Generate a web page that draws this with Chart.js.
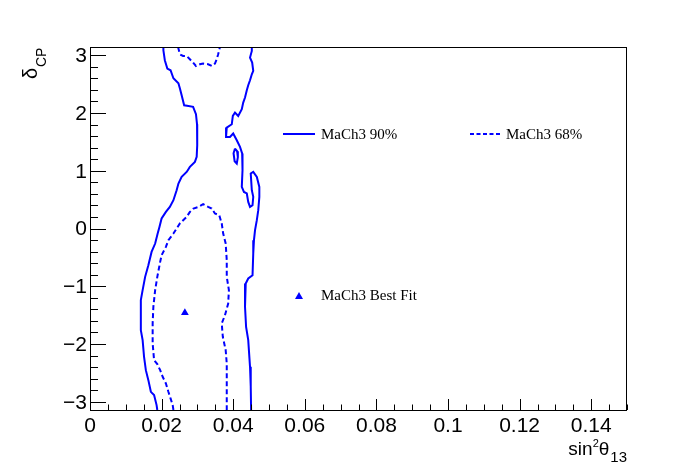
<!DOCTYPE html>
<html>
<head>
<meta charset="utf-8">
<script src="https://cdn.jsdelivr.net/npm/chart.js@4.4.0/dist/chart.umd.min.js"></script>
<style>
  html, body { margin: 0; padding: 0; background: #fff; }
</style>
</head>
<body>
<canvas id="contourChart" width="696" height="472"></canvas>
<script>
// axis ticks
const xTickValues = [0, 0.02, 0.04, 0.06, 0.08, 0.1, 0.12, 0.14];
const xTickLabels = ['0', '0.02', '0.04', '0.06', '0.08', '0.1', '0.12', '0.14'];
const yTickValues = [-3, -2, -1, 0, 1, 2, 3];
const yTickLabels = ['\u22123', '\u22122', '\u22121', '0', '1', '2', '3'];

// 90% contour pieces [sin2theta13, deltaCP]
const c90Left = [
    [0.0205, 3.1416], [0.0205, 3.085], [0.0209, 2.912], [0.0216, 2.768], [0.0225, 2.739],
    [0.0233, 2.601], [0.0247, 2.515], [0.0251, 2.428], [0.0256, 2.306], [0.0263, 2.133],
    [0.0271, 2.125], [0.0288, 2.107], [0.0296, 1.978], [0.0299, 1.804], [0.0300, 1.701],
    [0.0299, 1.441], [0.0298, 1.239], [0.0293, 1.152], [0.0279, 1.066], [0.0270, 0.979],
    [0.0256, 0.893], [0.0247, 0.779], [0.0242, 0.663], [0.0233, 0.490], [0.0223, 0.374],
    [0.0212, 0.287], [0.0200, 0.173], [0.0194, 0.028], [0.0189, -0.087], [0.0182, -0.260],
    [0.0172, -0.405], [0.0163, -0.635], [0.0154, -0.837], [0.0147, -1.067], [0.0142, -1.240],
    [0.0142, -1.500], [0.0142, -1.760], [0.0147, -1.933], [0.0151, -2.222], [0.0156, -2.452],
    [0.0163, -2.625], [0.0170, -2.827], [0.0179, -2.884], [0.0186, -3.057], [0.0188, -3.1416]
];
const c90Right = [
    [0.0452, 3.1416], [0.0452, 3.073], [0.0447, 2.958], [0.0453, 2.872], [0.0456, 2.727],
    [0.0452, 2.670], [0.0447, 2.566], [0.0442, 2.479], [0.0438, 2.393], [0.0433, 2.266],
    [0.0428, 2.180], [0.0424, 2.064], [0.0414, 1.948], [0.0405, 2.007], [0.0399, 1.948],
    [0.0396, 1.804], [0.0382, 1.747], [0.0380, 1.585], [0.0391, 1.585], [0.0400, 1.644],
    [0.0410, 1.528], [0.0419, 1.412], [0.0425, 1.298], [0.0426, 1.009], [0.0424, 0.720],
    [0.0430, 0.633], [0.0438, 0.606], [0.0442, 0.460], [0.0447, 0.374], [0.0454, 0.403],
    [0.0456, 0.547], [0.0452, 0.663], [0.0449, 0.952], [0.0456, 0.979], [0.0466, 0.893],
    [0.0473, 0.720], [0.0473, 0.547], [0.0470, 0.317], [0.0466, 0.144], [0.0461, -0.029],
    [0.0458, -0.202], [0.0456, -0.433], [0.0454, -0.808], [0.0442, -0.865], [0.0435, -0.952],
    [0.0433, -1.356], [0.0436, -1.702], [0.0442, -1.933], [0.0447, -2.394], [0.0449, -2.740],
    [0.0450, -3.1416]
];
const c90Island = [
    [0.0405, 1.384], [0.0411, 1.337], [0.0413, 1.234], [0.0410, 1.125],
    [0.0404, 1.165], [0.0401, 1.303], [0.0405, 1.384]
];

// 68% contour pieces
const c68Main = [
    [0.0233, -3.1416], [0.0231, -3.057], [0.0225, -2.941], [0.0219, -2.827], [0.0212, -2.682],
    [0.0203, -2.567], [0.0196, -2.452], [0.0188, -2.348], [0.0179, -2.279], [0.0175, -1.990],
    [0.0175, -1.644], [0.0177, -1.356], [0.0182, -1.067], [0.0188, -0.837], [0.0196, -0.578],
    [0.0200, -0.462], [0.0212, -0.318], [0.0219, -0.202], [0.0233, -0.087], [0.0242, 0.0],
    [0.0251, 0.087], [0.0270, 0.201], [0.0279, 0.287], [0.0289, 0.346], [0.0303, 0.374],
    [0.0316, 0.420], [0.0330, 0.374], [0.0340, 0.346], [0.0349, 0.260], [0.0361, 0.230],
    [0.0368, 0.087], [0.0372, -0.087], [0.0379, -0.260], [0.0382, -0.548], [0.0382, -0.837],
    [0.0388, -1.067], [0.0386, -1.298], [0.0377, -1.500], [0.0368, -1.644], [0.0371, -1.875],
    [0.0379, -2.106], [0.0382, -2.336], [0.0382, -2.625], [0.0382, -2.971], [0.0382, -3.1416]
];
const c68Top = [
    [0.0246, 3.1416], [0.0251, 3.015], [0.0260, 2.986], [0.0270, 2.986], [0.0279, 2.929],
    [0.0288, 2.872], [0.0296, 2.813], [0.0307, 2.843], [0.0316, 2.855], [0.0330, 2.843],
    [0.0340, 2.813], [0.0349, 2.855], [0.0354, 2.929], [0.0358, 3.015], [0.0363, 3.1416]
];

// best fit point
const bestFit = [[0.0265, -1.46]];

const BLUE = '#0000ff';

function toPoints(arr) {
    return arr.map(p => ({ x: p[0], y: p[1] }));
}

function contourSet(arr, dashed) {
    return {
        data: toPoints(arr),
        showLine: true,
        borderColor: BLUE,
        borderWidth: 2,
        borderDash: dashed ? [5, 3] : [],
        pointRadius: 0,
        tension: 0,
        fill: false
    };
}

// ROOT style frame, inward ticks, labels and legend
const rootFrame = {
    id: 'rootFrame',
    afterDraw(chart) {
        const ctx = chart.ctx;
        const a = chart.chartArea;
        const xs = chart.scales.x;
        const ys = chart.scales.y;
        ctx.save();
        ctx.strokeStyle = '#000';
        ctx.lineWidth = 1;
        ctx.setLineDash([]);
        ctx.strokeRect(a.left + 0.5, a.top + 0.5, a.right - a.left - 1, a.bottom - a.top);

        // x ticks
        ctx.beginPath();
        for (let i = 0; i <= 30; i++) {
            const v = i * 0.005;
            const px = Math.round(xs.getPixelForValue(v)) + 0.5;
            const len = (i % 4 === 0) ? 11 : 5.5;
            ctx.moveTo(px, a.bottom);
            ctx.lineTo(px, a.bottom - len);
        }
        // y ticks
        for (let i = -15; i <= 15; i++) {
            const v = i * 0.2;
            const py = Math.round(ys.getPixelForValue(v)) + 0.5;
            const len = (i % 5 === 0) ? 16 : 8;
            ctx.moveTo(a.left, py);
            ctx.lineTo(a.left + len, py);
        }
        ctx.stroke();

        ctx.fillStyle = '#000';
        ctx.font = '21px "Liberation Sans", Arial, sans-serif';
        ctx.textAlign = 'center';
        ctx.textBaseline = 'alphabetic';
        xTickValues.forEach((v, i) => {
            ctx.fillText(xTickLabels[i], xs.getPixelForValue(v), a.bottom + 22);
        });
        ctx.textAlign = 'right';
        ctx.textBaseline = 'middle';
        yTickValues.forEach((v, i) => {
            ctx.fillText(yTickLabels[i], a.left - 3, ys.getPixelForValue(v) + 1);
        });

        // x title: sin^2 theta_13, right aligned to the frame
        ctx.textAlign = 'left';
        ctx.textBaseline = 'alphabetic';
        const mainF = '19px "Liberation Sans", Arial, sans-serif';
        const supF = '11px "Liberation Sans", Arial, sans-serif';
        const subF = '15px "Liberation Sans", Arial, sans-serif';
        ctx.font = mainF; const wSin = ctx.measureText('sin').width; const wTh = ctx.measureText('\u03b8').width;
        ctx.font = supF; const wSup = ctx.measureText('2').width;
        ctx.font = subF; const wSub = ctx.measureText('13').width;
        let tx = a.right - (wSin + wSup + wTh + wSub + 1);
        const base = 455;
        ctx.font = mainF; ctx.fillText('sin', tx, base); tx += wSin;
        ctx.font = supF; ctx.fillText('2', tx, base - 8); tx += wSup;
        ctx.font = mainF; ctx.fillText('\u03b8', tx, base); tx += wTh + 1;
        ctx.font = subF; ctx.fillText('13', tx, base + 7);

        // y title: delta_CP rotated
        ctx.save();
        ctx.translate(37, 0);
        ctx.rotate(-Math.PI / 2);
        ctx.font = '20px "Liberation Sans", Arial, sans-serif';
        ctx.fillText('\u03b4', -79, 0);
        ctx.font = '14px "Liberation Sans", Arial, sans-serif';
        ctx.fillText('CP', -67, 9);
        ctx.restore();

        // legend
        ctx.strokeStyle = BLUE;
        ctx.lineWidth = 2;
        ctx.beginPath();
        ctx.moveTo(283, 134); ctx.lineTo(315, 134);
        ctx.stroke();
        ctx.setLineDash([4, 2.5]);
        ctx.beginPath();
        ctx.moveTo(470, 134); ctx.lineTo(501, 134);
        ctx.stroke();
        ctx.setLineDash([]);
        ctx.fillStyle = BLUE;
        ctx.beginPath();
        ctx.moveTo(299, 292); ctx.lineTo(303, 299); ctx.lineTo(295, 299); ctx.closePath();
        ctx.fill();

        ctx.fillStyle = '#000';
        ctx.font = '15px "Liberation Serif", "Times New Roman", serif';
        ctx.fillText('MaCh3 90%', 321, 139);
        ctx.fillText('MaCh3 68%', 506, 139);
        ctx.fillText('MaCh3 Best Fit', 321, 300);
        ctx.restore();
    }
};

document.addEventListener('DOMContentLoaded', function() {
    const ctx = document.getElementById('contourChart');

    new Chart(ctx.getContext('2d'), {
        type: 'scatter',
        data: {
            datasets: [
                contourSet(c90Left, false),
                contourSet(c90Right, false),
                contourSet(c90Island, false),
                contourSet(c68Main, true),
                contourSet(c68Top, true),
                {
                    data: toPoints(bestFit),
                    pointStyle: 'triangle',
                    pointRadius: 4.5,
                    backgroundColor: BLUE,
                    borderColor: BLUE,
                    borderWidth: 0,
                    showLine: false
                }
            ]
        },
        options: {
            responsive: false,
            animation: false,
            devicePixelRatio: 1,
            layout: {
                padding: { left: 90, right: 69, top: 47, bottom: 62 }
            },
            plugins: {
                legend: { display: false },
                tooltip: { enabled: false }
            },
            scales: {
                x: { type: 'linear', min: 0, max: 0.15, display: false },
                y: { type: 'linear', min: -Math.PI, max: Math.PI, display: false }
            }
        },
        plugins: [rootFrame]
    });
});
</script>
</body>
</html>
